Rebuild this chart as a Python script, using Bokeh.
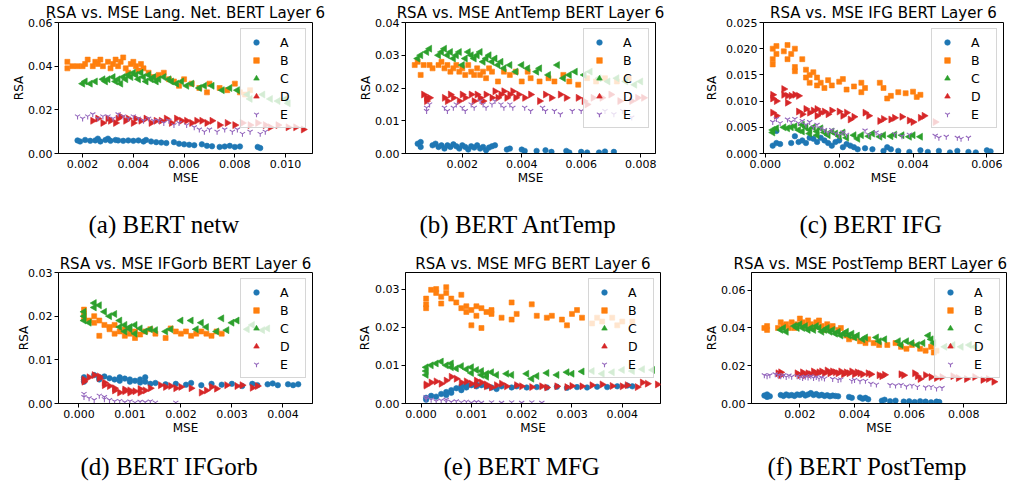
import math
from bokeh.plotting import figure
from bokeh.layouts import column, row
from bokeh.models import Range1d, FixedTicker, PrintfTickFormatter, Title
from bokeh.embed import file_html
from bokeh.resources import INLINE

series_names = ["A", "B", "C", "D", "E"]
series_colors = ["#1f77b4", "#ff7f0e", "#2ca02c", "#d62728", "#9467bd"]

# ---------------- (a) Lang. Net. ----------------
netw_title = "RSA vs. MSE Lang. Net. BERT Layer 6"
netw_caption = "(a) BERT netw"
netw_xticks = [0.002, 0.004, 0.006, 0.008, 0.010]
netw_yticks = [0.00, 0.02, 0.04, 0.06]
netw_A = [(0.0018,0.0060),(0.0019,0.0055),(0.0021,0.0062),(0.0023,0.0058),(0.0025,0.0060),(0.0026,0.0068),(0.0027,0.0055),(0.0029,0.0062),(0.0030,0.0068),(0.0031,0.0058),(0.0033,0.0062),(0.0034,0.0060),(0.0036,0.0058),(0.0038,0.0060),(0.0040,0.0058),(0.0042,0.0060),(0.0044,0.0055),(0.0045,0.0062),(0.0047,0.0055),(0.0049,0.0052),(0.0051,0.0050),(0.0053,0.0048),(0.0056,0.0052),(0.0058,0.0045),(0.0060,0.0042),(0.0062,0.0040),(0.0064,0.0038),(0.0067,0.0042),(0.0069,0.0035),(0.0071,0.0033),(0.0074,0.0030),(0.0076,0.0032),(0.0078,0.0035),(0.0080,0.0030),(0.0082,0.0032),(0.0089,0.0030),(0.0090,0.0025)]
netw_B = [(0.0014,0.039),(0.0014,0.042),(0.0016,0.040),(0.0018,0.040),(0.0020,0.040),(0.0021,0.041),(0.0022,0.043),(0.0024,0.040),(0.0025,0.042),(0.0026,0.041),(0.0027,0.043),(0.0028,0.040),(0.0030,0.042),(0.0031,0.039),(0.0032,0.041),(0.0033,0.043),(0.0034,0.040),(0.0035,0.042),(0.0036,0.044),(0.0037,0.039),(0.0038,0.037),(0.0039,0.041),(0.0040,0.042),(0.0041,0.040),(0.0042,0.038),(0.0043,0.041),(0.0044,0.039),(0.0046,0.037),(0.0048,0.035),(0.0050,0.036),(0.0052,0.037),(0.0054,0.034),(0.0056,0.033),(0.0058,0.031),(0.0060,0.034),(0.0063,0.032),(0.0066,0.030),(0.0069,0.028),(0.0070,0.032),(0.0074,0.030),(0.0077,0.029),(0.0080,0.032),(0.0082,0.028),(0.0084,0.027),(0.0086,0.029)]
netw_C = [(0.0020,0.032),(0.0021,0.033),(0.0023,0.032),(0.0025,0.033),(0.0028,0.034),(0.0029,0.033),(0.0030,0.034),(0.0032,0.035),(0.0033,0.033),(0.0034,0.034),(0.0035,0.032),(0.0036,0.035),(0.0037,0.034),(0.0038,0.036),(0.0039,0.035),(0.0040,0.037),(0.0041,0.036),(0.0042,0.034),(0.0043,0.037),(0.0044,0.035),(0.0045,0.033),(0.0046,0.036),(0.0047,0.034),(0.0048,0.035),(0.0049,0.033),(0.0050,0.034),(0.0052,0.035),(0.0054,0.034),(0.0055,0.033),(0.0057,0.032),(0.0059,0.033),(0.0061,0.031),(0.0063,0.032),(0.0066,0.030),(0.0068,0.031),(0.0071,0.031),(0.0075,0.029),(0.0078,0.030),(0.0081,0.029),(0.0085,0.027),(0.0086,0.025),(0.0091,0.027),(0.0094,0.025),(0.0097,0.024),(0.0100,0.025),(0.0101,0.023)]
netw_D = [(0.0024,0.015),(0.0026,0.016),(0.0028,0.014),(0.0030,0.016),(0.0031,0.015),(0.0033,0.014),(0.0034,0.016),(0.0035,0.017),(0.0037,0.015),(0.0038,0.016),(0.0040,0.014),(0.0041,0.016),(0.0043,0.015),(0.0045,0.016),(0.0047,0.014),(0.0049,0.015),(0.0051,0.015),(0.0053,0.016),(0.0055,0.014),(0.0057,0.016),(0.0059,0.015),(0.0061,0.015),(0.0063,0.014),(0.0065,0.015),(0.0067,0.015),(0.0069,0.014),(0.0071,0.015),(0.0074,0.013),(0.0077,0.014),(0.0080,0.013),(0.0083,0.014),(0.0086,0.013),(0.0089,0.014),(0.0092,0.013),(0.0094,0.012),(0.0097,0.013),(0.0101,0.012),(0.0104,0.012),(0.0107,0.011)]
netw_E = [(0.0018,0.017),(0.0020,0.016),(0.0022,0.017),(0.0024,0.018),(0.0026,0.016),(0.0028,0.017),(0.0030,0.017),(0.0032,0.016),(0.0034,0.018),(0.0036,0.017),(0.0038,0.016),(0.0040,0.017),(0.0042,0.016),(0.0044,0.015),(0.0046,0.016),(0.0048,0.015),(0.0050,0.015),(0.0052,0.014),(0.0054,0.015),(0.0056,0.013),(0.0058,0.014),(0.0061,0.013),(0.0064,0.012),(0.0066,0.011),(0.0068,0.010),(0.0070,0.011),(0.0073,0.010),(0.0076,0.011),(0.0079,0.010),(0.0081,0.011),(0.0083,0.009),(0.0086,0.010),(0.0090,0.009),(0.0092,0.010)]

# ---------------- (b) AntTemp ----------------
anttemp_title = "RSA vs. MSE AntTemp BERT Layer 6"
anttemp_caption = "(b) BERT AntTemp"
anttemp_xticks = [0.002, 0.004, 0.006, 0.008]
anttemp_yticks = [0.00, 0.01, 0.02, 0.03, 0.04]
anttemp_A = [(0.0005,0.0030),(0.0006,0.0020),(0.0006,0.0035),(0.0010,0.0025),(0.0011,0.0030),(0.0012,0.0020),(0.0013,0.0025),(0.0014,0.0015),(0.0015,0.0025),(0.0016,0.0020),(0.0017,0.0028),(0.0018,0.0022),(0.0019,0.0015),(0.0020,0.0025),(0.0021,0.0020),(0.0022,0.0012),(0.0023,0.0022),(0.0024,0.0018),(0.0025,0.0025),(0.0026,0.0015),(0.0027,0.0020),(0.0028,0.0010),(0.0029,0.0018),(0.0030,0.0022),(0.0031,0.0025),(0.0035,0.0012),(0.0036,0.0015),(0.0040,0.0012),(0.0041,0.0008),(0.0045,0.0008),(0.0048,0.0010),(0.0050,0.0005),(0.0055,0.0008),(0.0056,0.0003),(0.0060,0.0005),(0.0062,0.0003),(0.0066,0.0003),(0.0068,0.0006),(0.0071,0.0005)]
anttemp_B = [(0.0004,0.027),(0.0005,0.028),(0.0006,0.024),(0.0007,0.027),(0.0009,0.027),(0.0010,0.026),(0.0012,0.027),(0.0013,0.028),(0.0014,0.026),(0.0015,0.027),(0.0016,0.025),(0.0017,0.026),(0.0018,0.027),(0.0019,0.025),(0.0020,0.026),(0.0021,0.024),(0.0022,0.027),(0.0023,0.025),(0.0024,0.024),(0.0025,0.026),(0.0026,0.024),(0.0027,0.025),(0.0028,0.023),(0.0029,0.026),(0.0030,0.025),(0.0032,0.022),(0.0034,0.025),(0.0036,0.024),(0.0038,0.025),(0.0040,0.022),(0.0042,0.025),(0.0043,0.023),(0.0046,0.022),(0.0049,0.023),(0.0051,0.022),(0.0054,0.024),(0.0056,0.022),(0.0059,0.021),(0.0062,0.023),(0.0065,0.022),(0.0068,0.023),(0.0072,0.022),(0.0076,0.023)]
anttemp_C = [(0.0005,0.029),(0.0006,0.030),(0.0008,0.031),(0.0009,0.032),(0.0012,0.030),(0.0013,0.031),(0.0014,0.032),(0.0015,0.030),(0.0016,0.031),(0.0017,0.029),(0.0018,0.030),(0.0019,0.031),(0.0020,0.027),(0.0021,0.029),(0.0022,0.031),(0.0023,0.030),(0.0024,0.029),(0.0025,0.030),(0.0026,0.031),(0.0027,0.028),(0.0028,0.029),(0.0029,0.030),(0.0030,0.028),(0.0031,0.029),(0.0032,0.027),(0.0033,0.028),(0.0034,0.026),(0.0036,0.027),(0.0038,0.025),(0.0040,0.027),(0.0042,0.026),(0.0045,0.025),(0.0046,0.026),(0.0049,0.024),(0.0052,0.027),(0.0054,0.023),(0.0056,0.024),(0.0058,0.025),(0.0061,0.024),(0.0063,0.025),(0.0066,0.023),(0.0069,0.022),(0.0072,0.023),(0.0075,0.022),(0.0078,0.021),(0.0080,0.022)]
anttemp_D = [(0.0007,0.018),(0.0008,0.017),(0.0008,0.016),(0.0009,0.017),(0.0014,0.017),(0.0015,0.016),(0.0016,0.018),(0.0017,0.017),(0.0019,0.016),(0.0020,0.018),(0.0021,0.017),(0.0023,0.018),(0.0024,0.016),(0.0025,0.018),(0.0026,0.017),(0.0027,0.016),(0.0028,0.018),(0.0030,0.017),(0.0031,0.019),(0.0032,0.017),(0.0033,0.018),(0.0034,0.019),(0.0035,0.017),(0.0036,0.018),(0.0037,0.019),(0.0038,0.017),(0.0039,0.018),(0.0041,0.017),(0.0043,0.018),(0.0046,0.016),(0.0048,0.018),(0.0050,0.017),(0.0053,0.018),(0.0055,0.017),(0.0059,0.017),(0.0061,0.016),(0.0062,0.015),(0.0064,0.017),(0.0067,0.017),(0.0070,0.018),(0.0073,0.016),(0.0077,0.016),(0.0079,0.017),(0.0081,0.017)]
anttemp_E = [(0.0008,0.014),(0.0008,0.013),(0.0009,0.015),(0.0014,0.014),(0.0015,0.013),(0.0017,0.014),(0.0018,0.015),(0.0020,0.014),(0.0021,0.013),(0.0023,0.015),(0.0024,0.014),(0.0026,0.016),(0.0027,0.015),(0.0028,0.014),(0.0030,0.015),(0.0031,0.016),(0.0033,0.015),(0.0034,0.014),(0.0036,0.015),(0.0037,0.014),(0.0041,0.014),(0.0043,0.013),(0.0047,0.014),(0.0048,0.013),(0.0051,0.013),(0.0053,0.012),(0.0057,0.013),(0.0060,0.013),(0.0066,0.012),(0.0068,0.013),(0.0071,0.012),(0.0074,0.013),(0.0077,0.011)]

# ---------------- (c) IFG ----------------
ifg_title = "RSA vs. MSE IFG BERT Layer 6"
ifg_caption = "(c) BERT IFG"
ifg_xticks = [0.000, 0.002, 0.004, 0.006]
ifg_yticks = [0.000, 0.005, 0.010, 0.015, 0.020, 0.025]
ifg_A = [(0.0002,0.0015),(0.0003,0.0020),(0.0003,0.0043),(0.0004,0.0018),(0.0007,0.0020),(0.0008,0.0033),(0.0009,0.0022),(0.0010,0.0025),(0.0011,0.0020),(0.0012,0.0030),(0.0013,0.0028),(0.0014,0.0022),(0.0015,0.0030),(0.0016,0.0025),(0.0017,0.0020),(0.0018,0.0015),(0.0019,0.0022),(0.0020,0.0025),(0.0021,0.0012),(0.0022,0.0018),(0.0023,0.0015),(0.0024,0.0012),(0.0025,0.0008),(0.0027,0.0010),(0.0029,0.0008),(0.0032,0.0005),(0.0033,0.0012),(0.0034,0.0008),(0.0036,0.0005),(0.0039,0.0003),(0.0042,0.0006),(0.0044,0.0003),(0.0047,0.0005),(0.0050,0.0002),(0.0052,0.0005),(0.0055,0.0003),(0.0057,0.0002),(0.0060,0.0006),(0.0061,0.0004)]
ifg_B = [(0.0002,0.0170),(0.0002,0.0180),(0.0002,0.0200),(0.0003,0.0190),(0.0003,0.0205),(0.0005,0.0195),(0.0006,0.0207),(0.0006,0.0180),(0.0007,0.0190),(0.0008,0.0200),(0.0008,0.0165),(0.0008,0.0157),(0.0010,0.0180),(0.0011,0.0160),(0.0011,0.0145),(0.0012,0.0150),(0.0012,0.0135),(0.0013,0.0155),(0.0014,0.0130),(0.0014,0.0145),(0.0015,0.0135),(0.0016,0.0125),(0.0017,0.0140),(0.0018,0.0130),(0.0020,0.0137),(0.0021,0.0142),(0.0022,0.0122),(0.0024,0.0128),(0.0026,0.0135),(0.0026,0.0117),(0.0027,0.0125),(0.0031,0.0135),(0.0032,0.0125),(0.0033,0.0105),(0.0034,0.0110),(0.0036,0.0117),(0.0038,0.0115),(0.0040,0.0118),(0.0041,0.0108),(0.0042,0.0112)]
ifg_C = [(0.0002,0.0045),(0.0002,0.0040),(0.0003,0.0048),(0.0005,0.0050),(0.0006,0.0048),(0.0007,0.0050),(0.0008,0.0052),(0.0009,0.0045),(0.0010,0.0055),(0.0010,0.0042),(0.0011,0.0050),(0.0012,0.0045),(0.0012,0.0038),(0.0013,0.0050),(0.0014,0.0042),(0.0014,0.0035),(0.0015,0.0048),(0.0016,0.0040),(0.0017,0.0035),(0.0018,0.0042),(0.0019,0.0038),(0.0020,0.0033),(0.0021,0.0040),(0.0022,0.0030),(0.0024,0.0035),(0.0025,0.0028),(0.0026,0.0035),(0.0028,0.0033),(0.0029,0.0038),(0.0031,0.0032),(0.0032,0.0035),(0.0034,0.0033),(0.0035,0.0036),(0.0037,0.0035),(0.0039,0.0032),(0.0040,0.0035),(0.0042,0.0032)]
ifg_D = [(0.0002,0.0112),(0.0002,0.0105),(0.0002,0.0078),(0.0003,0.0100),(0.0003,0.0072),(0.0005,0.0112),(0.0005,0.0123),(0.0006,0.0110),(0.0006,0.0097),(0.0007,0.0110),(0.0008,0.0112),(0.0009,0.0110),(0.0009,0.0080),(0.0010,0.0075),(0.0011,0.0085),(0.0012,0.0078),(0.0013,0.0082),(0.0014,0.0072),(0.0014,0.0085),(0.0015,0.0078),(0.0016,0.0080),(0.0017,0.0075),(0.0018,0.0082),(0.0020,0.0080),(0.0021,0.0072),(0.0022,0.0078),(0.0023,0.0065),(0.0024,0.0070),(0.0027,0.0078),(0.0028,0.0072),(0.0031,0.0062),(0.0032,0.0066),(0.0034,0.0065),(0.0035,0.0068),(0.0037,0.0070),(0.0039,0.0063),(0.0040,0.0060),(0.0042,0.0068),(0.0043,0.0072),(0.0046,0.0060)]
ifg_E = [(0.0002,0.0060),(0.0003,0.0066),(0.0004,0.0058),(0.0006,0.0065),(0.0007,0.0060),(0.0008,0.0066),(0.0009,0.0058),(0.0010,0.0062),(0.0011,0.0055),(0.0012,0.0060),(0.0013,0.0050),(0.0014,0.0055),(0.0015,0.0048),(0.0016,0.0045),(0.0017,0.0040),(0.0018,0.0045),(0.0019,0.0038),(0.0020,0.0035),(0.0021,0.0040),(0.0022,0.0036),(0.0027,0.0044),(0.0028,0.0036),(0.0030,0.0040),(0.0031,0.0035),(0.0035,0.0037),(0.0037,0.0033),(0.0039,0.0036),(0.0046,0.0034),(0.0047,0.0030),(0.0049,0.0032),(0.0052,0.0030),(0.0053,0.0028),(0.0055,0.0030)]

# ---------------- (d) IFGorb ----------------
ifgorb_title = "RSA vs. MSE IFGorb BERT Layer 6"
ifgorb_caption = "(d) BERT IFGorb"
ifgorb_xticks = [0.000, 0.001, 0.002, 0.003, 0.004]
ifgorb_yticks = [0.00, 0.01, 0.02, 0.03]
ifgorb_A = [(0.0001,0.0060),(0.0001,0.0055),(0.0001,0.0050),(0.0003,0.0065),(0.0004,0.0060),(0.0004,0.0055),(0.0005,0.0062),(0.0006,0.0058),(0.0007,0.0055),(0.0008,0.0060),(0.0008,0.0052),(0.0009,0.0057),(0.0010,0.0050),(0.0010,0.0055),(0.0011,0.0052),(0.0012,0.0048),(0.0012,0.0055),(0.0013,0.0050),(0.0013,0.0060),(0.0014,0.0045),(0.0015,0.0047),(0.0017,0.0044),(0.0019,0.0045),(0.0021,0.0043),(0.0022,0.0047),(0.0024,0.0042),(0.0026,0.0045),(0.0028,0.0043),(0.0030,0.0045),(0.0032,0.0040),(0.0034,0.0045),(0.0035,0.0042),(0.0037,0.0044),(0.0038,0.0046),(0.0039,0.0042),(0.0041,0.0044),(0.0042,0.0042),(0.0043,0.0044)]
ifgorb_B = [(0.0001,0.0215),(0.0001,0.0205),(0.0001,0.0195),(0.0002,0.0190),(0.0003,0.0200),(0.0003,0.0185),(0.0004,0.0155),(0.0004,0.0190),(0.0005,0.0180),(0.0006,0.0175),(0.0006,0.0170),(0.0007,0.0180),(0.0007,0.0160),(0.0008,0.0165),(0.0009,0.0170),(0.0009,0.0155),(0.0010,0.0160),(0.0011,0.0165),(0.0011,0.0150),(0.0012,0.0158),(0.0013,0.0165),(0.0014,0.0170),(0.0015,0.0160),(0.0017,0.0150),(0.0018,0.0172),(0.0019,0.0165),(0.0020,0.0160),(0.0021,0.0165),(0.0022,0.0155),(0.0023,0.0160),(0.0024,0.0165),(0.0025,0.0160),(0.0026,0.0155),(0.0027,0.0165),(0.0028,0.0160)]
ifgorb_C = [(0.0001,0.0210),(0.0001,0.0200),(0.0001,0.0190),(0.0002,0.0185),(0.0003,0.0220),(0.0003,0.0230),(0.0004,0.0225),(0.0005,0.0210),(0.0006,0.0200),(0.0007,0.0205),(0.0008,0.0190),(0.0008,0.0175),(0.0009,0.0180),(0.0009,0.0165),(0.0010,0.0175),(0.0010,0.0170),(0.0011,0.0180),(0.0011,0.0160),(0.0012,0.0172),(0.0013,0.0165),(0.0014,0.0170),(0.0015,0.0168),(0.0017,0.0165),(0.0018,0.0170),(0.0020,0.0190),(0.0022,0.0190),(0.0023,0.0170),(0.0024,0.0185),(0.0025,0.0175),(0.0027,0.0165),(0.0028,0.0195),(0.0029,0.0168),(0.0030,0.0185),(0.0031,0.0190),(0.0033,0.0170),(0.0034,0.0180),(0.0036,0.0168),(0.0037,0.0172)]
ifgorb_D = [(0.0001,0.0055),(0.0001,0.0050),(0.0002,0.0060),(0.0003,0.0065),(0.0004,0.0062),(0.0004,0.0058),(0.0005,0.0048),(0.0005,0.0042),(0.0006,0.0040),(0.0007,0.0035),(0.0007,0.0030),(0.0008,0.0025),(0.0009,0.0032),(0.0009,0.0028),(0.0010,0.0025),(0.0010,0.0030),(0.0011,0.0028),(0.0012,0.0033),(0.0012,0.0025),(0.0013,0.0030),(0.0014,0.0035),(0.0016,0.0042),(0.0017,0.0038),(0.0018,0.0040),(0.0019,0.0035),(0.0020,0.0038),(0.0022,0.0035),(0.0024,0.0025),(0.0025,0.0030),(0.0026,0.0038),(0.0027,0.0034),(0.0029,0.0042),(0.0031,0.0040),(0.0032,0.0042),(0.0034,0.0036),(0.0035,0.0040)]
ifgorb_E = [(0.0001,0.0022),(0.0001,0.0015),(0.0002,0.0012),(0.0003,0.0008),(0.0004,0.0018),(0.0005,0.0015),(0.0005,0.0010),(0.0006,0.0008),(0.0007,0.0005),(0.0008,0.0006),(0.0009,0.0003),(0.0010,0.0005),(0.0011,0.0002),(0.0012,0.0004),(0.0013,0.0003),(0.0014,0.0005),(0.0015,0.0002),(0.0019,0.0002)]

# ---------------- (e) MFG ----------------
mfg_title = "RSA vs. MSE MFG BERT Layer 6"
mfg_caption = "(e) BERT MFG"
mfg_xticks = [0.000, 0.001, 0.002, 0.003, 0.004]
mfg_yticks = [0.00, 0.01, 0.02, 0.03]
mfg_A = [(0.0001,0.0015),(0.0001,0.0010),(0.0002,0.0020),(0.0003,0.0018),(0.0004,0.0025),(0.0005,0.0030),(0.0005,0.0022),(0.0006,0.0035),(0.0006,0.0028),(0.0007,0.0040),(0.0008,0.0035),(0.0008,0.0045),(0.0009,0.0042),(0.0009,0.0050),(0.0010,0.0048),(0.0011,0.0045),(0.0011,0.0050),(0.0012,0.0048),(0.0013,0.0045),(0.0014,0.0042),(0.0015,0.0038),(0.0016,0.0045),(0.0018,0.0042),(0.0019,0.0045),(0.0021,0.0042),(0.0023,0.0043),(0.0025,0.0042),(0.0027,0.0044),(0.0029,0.0041),(0.0031,0.0043),(0.0033,0.0042),(0.0035,0.0044),(0.0037,0.0043),(0.0039,0.0045),(0.0041,0.0047),(0.0042,0.0045)]
mfg_B = [(0.0001,0.0275),(0.0001,0.0260),(0.0001,0.0250),(0.0002,0.0298),(0.0003,0.0290),(0.0003,0.0300),(0.0004,0.0280),(0.0004,0.0262),(0.0005,0.0305),(0.0005,0.0290),(0.0006,0.0275),(0.0007,0.0265),(0.0008,0.0285),(0.0008,0.0250),(0.0009,0.0240),(0.0009,0.0255),(0.0010,0.0205),(0.0010,0.0245),(0.0011,0.0230),(0.0011,0.0255),(0.0012,0.0250),(0.0012,0.0198),(0.0013,0.0240),(0.0014,0.0235),(0.0014,0.0245),(0.0016,0.0225),(0.0018,0.0265),(0.0018,0.0220),(0.0019,0.0235),(0.0022,0.0260),(0.0023,0.0230),(0.0025,0.0225),(0.0026,0.0230),(0.0028,0.0220),(0.0029,0.0205),(0.0030,0.0235),(0.0031,0.0245),(0.0032,0.0225),(0.0034,0.0210),(0.0035,0.0225),(0.0036,0.0215),(0.0038,0.0225),(0.0039,0.0205),(0.0040,0.0215),(0.0042,0.0215)]
mfg_C = [(0.0001,0.0095),(0.0001,0.0085),(0.0001,0.0075),(0.0002,0.0100),(0.0003,0.0105),(0.0004,0.0110),(0.0005,0.0100),(0.0006,0.0095),(0.0006,0.0105),(0.0007,0.0092),(0.0008,0.0098),(0.0009,0.0090),(0.0010,0.0095),(0.0010,0.0080),(0.0011,0.0088),(0.0012,0.0075),(0.0012,0.0085),(0.0013,0.0078),(0.0013,0.0070),(0.0014,0.0082),(0.0015,0.0075),(0.0017,0.0078),(0.0018,0.0075),(0.0021,0.0078),(0.0022,0.0065),(0.0023,0.0072),(0.0025,0.0080),(0.0027,0.0075),(0.0029,0.0082),(0.0030,0.0078),(0.0032,0.0084),(0.0034,0.0085),(0.0036,0.0078),(0.0038,0.0082),(0.0040,0.0088),(0.0042,0.0085),(0.0044,0.0090),(0.0046,0.0088)]
mfg_D = [(0.0001,0.0050),(0.0001,0.0047),(0.0002,0.0055),(0.0003,0.0058),(0.0004,0.0052),(0.0005,0.0060),(0.0006,0.0070),(0.0007,0.0065),(0.0008,0.0055),(0.0009,0.0058),(0.0010,0.0052),(0.0011,0.0060),(0.0011,0.0048),(0.0012,0.0055),(0.0013,0.0045),(0.0013,0.0050),(0.0014,0.0042),(0.0015,0.0048),(0.0016,0.0052),(0.0017,0.0045),(0.0019,0.0048),(0.0020,0.0045),(0.0022,0.0043),(0.0024,0.0045),(0.0025,0.0042),(0.0027,0.0045),(0.0029,0.0043),(0.0030,0.0046),(0.0032,0.0045),(0.0034,0.0048),(0.0036,0.0050),(0.0038,0.0046),(0.0040,0.0045),(0.0041,0.0048),(0.0043,0.0043),(0.0044,0.0055),(0.0045,0.0052),(0.0047,0.0050)]
mfg_E = [(0.0001,0.0017),(0.0001,0.0012),(0.0002,0.0010),(0.0003,0.0006),(0.0004,0.0008),(0.0005,0.0005),(0.0005,0.0010),(0.0006,0.0004),(0.0007,0.0006),(0.0008,0.0003),(0.0009,0.0005),(0.0010,0.0002),(0.0011,0.0004),(0.0012,0.0002),(0.0014,0.0003),(0.0016,0.0002),(0.0018,0.0003),(0.0020,0.0002),(0.0022,0.0003),(0.0024,0.0002)]

# ---------------- (f) PostTemp ----------------
posttemp_title = "RSA vs. MSE PostTemp BERT Layer 6"
posttemp_caption = "(f) BERT PostTemp"
posttemp_xticks = [0.002, 0.004, 0.006, 0.008]
posttemp_yticks = [0.00, 0.02, 0.04, 0.06]
posttemp_A = [(0.0007,0.0042),(0.0008,0.0035),(0.0008,0.0048),(0.0009,0.0038),(0.0013,0.0045),(0.0014,0.0040),(0.0015,0.0048),(0.0016,0.0042),(0.0017,0.0045),(0.0018,0.0040),(0.0019,0.0048),(0.0020,0.0045),(0.0021,0.0052),(0.0022,0.0042),(0.0023,0.0048),(0.0024,0.0055),(0.0025,0.0045),(0.0026,0.0050),(0.0027,0.0042),(0.0028,0.0046),(0.0029,0.0040),(0.0030,0.0044),(0.0031,0.0038),(0.0032,0.0042),(0.0033,0.0040),(0.0034,0.0038),(0.0038,0.0035),(0.0039,0.0030),(0.0042,0.0032),(0.0043,0.0025),(0.0044,0.0030),(0.0045,0.0022),(0.0050,0.0015),(0.0051,0.0020),(0.0053,0.0012),(0.0055,0.0015),(0.0058,0.0010),(0.0060,0.0012),(0.0062,0.0008),(0.0064,0.0012),(0.0066,0.0010),(0.0068,0.0006),(0.0070,0.0010),(0.0071,0.0008)]
posttemp_B = [(0.0007,0.040),(0.0008,0.039),(0.0008,0.041),(0.0012,0.040),(0.0013,0.043),(0.0014,0.041),(0.0015,0.042),(0.0016,0.040),(0.0017,0.043),(0.0018,0.040),(0.0019,0.042),(0.0020,0.045),(0.0021,0.043),(0.0022,0.041),(0.0023,0.044),(0.0024,0.042),(0.0025,0.040),(0.0026,0.043),(0.0027,0.044),(0.0028,0.041),(0.0029,0.039),(0.0030,0.042),(0.0031,0.040),(0.0032,0.041),(0.0034,0.039),(0.0035,0.040),(0.0037,0.036),(0.0038,0.034),(0.0040,0.035),(0.0042,0.033),(0.0044,0.032),(0.0045,0.034),(0.0047,0.032),(0.0049,0.031),(0.0052,0.031),(0.0055,0.032),(0.0057,0.030),(0.0059,0.029),(0.0061,0.031),(0.0064,0.029),(0.0066,0.028),(0.0068,0.030),(0.0069,0.027),(0.0070,0.028)]
posttemp_C = [(0.0013,0.039),(0.0014,0.040),(0.0015,0.038),(0.0018,0.041),(0.0019,0.040),(0.0020,0.042),(0.0021,0.040),(0.0022,0.041),(0.0023,0.039),(0.0024,0.040),(0.0025,0.039),(0.0026,0.041),(0.0027,0.040),(0.0028,0.038),(0.0029,0.039),(0.0030,0.040),(0.0031,0.038),(0.0032,0.039),(0.0033,0.037),(0.0034,0.038),(0.0035,0.036),(0.0036,0.037),(0.0037,0.038),(0.0038,0.036),(0.0039,0.037),(0.0040,0.035),(0.0041,0.036),(0.0043,0.034),(0.0044,0.035),(0.0048,0.035),(0.0049,0.033),(0.0051,0.034),(0.0056,0.033),(0.0057,0.031),(0.0059,0.033),(0.0061,0.032),(0.0063,0.031),(0.0065,0.032),(0.0067,0.036),(0.0068,0.034),(0.0069,0.032),(0.0073,0.030),(0.0076,0.031),(0.0079,0.030),(0.0082,0.031),(0.0084,0.030)]
posttemp_D = [(0.0012,0.0160),(0.0013,0.0150),(0.0013,0.0165),(0.0019,0.0160),(0.0020,0.0150),(0.0021,0.0165),(0.0022,0.0150),(0.0023,0.0160),(0.0024,0.0155),(0.0025,0.0170),(0.0026,0.0160),(0.0027,0.0165),(0.0028,0.0170),(0.0029,0.0160),(0.0030,0.0175),(0.0031,0.0160),(0.0032,0.0170),(0.0033,0.0165),(0.0034,0.0160),(0.0035,0.0170),(0.0036,0.0155),(0.0037,0.0165),(0.0038,0.0160),(0.0039,0.0170),(0.0040,0.0155),(0.0041,0.0165),(0.0042,0.0160),(0.0043,0.0155),(0.0045,0.0160),(0.0046,0.0155),(0.0049,0.0150),(0.0050,0.0145),(0.0051,0.0152),(0.0057,0.0155),(0.0058,0.0150),(0.0062,0.0160),(0.0063,0.0145),(0.0064,0.0130),(0.0066,0.0150),(0.0068,0.0140),(0.0070,0.0135),(0.0072,0.0140),(0.0076,0.0145),(0.0078,0.0135),(0.0081,0.0130),(0.0084,0.0140),(0.0087,0.0125),(0.0089,0.0130),(0.0091,0.0115)]
posttemp_E = [(0.0007,0.0150),(0.0008,0.0145),(0.0009,0.0150),(0.0011,0.0155),(0.0012,0.0150),(0.0013,0.0145),(0.0014,0.0150),(0.0015,0.0140),(0.0016,0.0148),(0.0017,0.0142),(0.0019,0.0145),(0.0020,0.0140),(0.0021,0.0135),(0.0022,0.0142),(0.0023,0.0138),(0.0024,0.0145),(0.0025,0.0135),(0.0026,0.0140),(0.0027,0.0132),(0.0028,0.0138),(0.0029,0.0132),(0.0032,0.0130),(0.0034,0.0125),(0.0035,0.0128),(0.0039,0.0120),(0.0040,0.0125),(0.0042,0.0118),(0.0044,0.0120),(0.0046,0.0105),(0.0048,0.0100),(0.0053,0.0098),(0.0055,0.0095),(0.0057,0.0098),(0.0059,0.0090),(0.0061,0.0095),(0.0063,0.0088),(0.0066,0.0085),(0.0068,0.0088),(0.0070,0.0080),(0.0072,0.0082)]

panels_data = [
    (netw_title, netw_caption, [netw_A, netw_B, netw_C, netw_D, netw_E], netw_xticks, netw_yticks),
    (anttemp_title, anttemp_caption, [anttemp_A, anttemp_B, anttemp_C, anttemp_D, anttemp_E], anttemp_xticks, anttemp_yticks),
    (ifg_title, ifg_caption, [ifg_A, ifg_B, ifg_C, ifg_D, ifg_E], ifg_xticks, ifg_yticks),
    (ifgorb_title, ifgorb_caption, [ifgorb_A, ifgorb_B, ifgorb_C, ifgorb_D, ifgorb_E], ifgorb_xticks, ifgorb_yticks),
    (mfg_title, mfg_caption, [mfg_A, mfg_B, mfg_C, mfg_D, mfg_E], mfg_xticks, mfg_yticks),
    (posttemp_title, posttemp_caption, [posttemp_A, posttemp_B, posttemp_C, posttemp_D, posttemp_E], posttemp_xticks, posttemp_yticks),
]

# ---- layout / style (not data) ----
# (xrange, yrange, xfmt, yfmt, border_left, frame_w, border_right, border_top, frame_h, border_bottom,
#  title_standoff, title_offset(None=centered), caption_offset, spacer, ylabel_standoff)
layout_cfg = [
    ((0.00105, 0.01106), (0.0, 0.06), "%.3f", "%.2f", 58, 254, 26, 22, 131, 95, 1, None, 30, 23.5, -1),
    ((0.00009, 0.0085), (0.0, 0.04), "%.3f", "%.2f", 67, 250, 35, 22, 131, 95, 1, None, 14, 23.5, -1),
    ((-0.00005, 0.00645), (0.0, 0.025), "%.3f", "%.3f", 73, 240, 14, 22, 131, 95, 1, None, 36, 23.5, 4),
    ((-0.0004, 0.00458), (0.0, 0.03), "%.3f", "%.2f", 58, 254, 26, 24, 131, 85, 0, None, 22, 15.5, -6),
    ((-0.00031, 0.00476), (0.0, 0.03435), "%.3f", "%.2f", 67, 255, 30, 24, 131, 85, 0, None, 38, 15.5, 0),
    ((0.00023, 0.00956), (0.0, 0.0694), "%.3f", "%.2f", 61, 255, 11, 24, 131, 85, 0, -18, 16, 15.5, -1),
]

marker_styles = [
    dict(marker="circle", size=5.5),
    dict(marker="square", size=5),
    dict(marker="triangle", size=7, angle=math.pi / 2),
    dict(marker="triangle", size=7, angle=-math.pi / 2),
    dict(marker="y", size=6),
]

FONT = "DejaVu Sans"


def make_panel(pdata, cfg):
    title, caption, series, xticks, yticks = pdata
    (xr, yr, xfmt, yfmt, bl, fw, br, bt, fh, bb, t_so, t_off, c_off, spacer, ylab_so) = cfg
    p = figure(frame_width=fw, frame_height=fh,
               min_border_left=bl, min_border_right=br,
               min_border_top=bt, min_border_bottom=bb,
               x_range=Range1d(*xr), y_range=Range1d(*yr),
               toolbar_location=None, tools="", output_backend="svg")
    p.grid.visible = False
    p.outline_line_color = "black"
    p.outline_line_width = 1
    p.outline_line_alpha = 1
    p.background_fill_color = "white"
    p.border_fill_color = "white"

    p.title.text = title
    p.title.text_font = FONT
    p.title.text_font_size = "15px"
    p.title.text_font_style = "normal"
    p.title.text_color = "black"
    p.title.standoff = t_so
    if t_off is None:
        p.title.align = "center"
    else:
        p.title.align = "left"
        p.title.offset = t_off

    for i, pts in enumerate(series):
        xs = [t[0] for t in pts]
        ys = [t[1] for t in pts]
        st = marker_styles[i]
        col = series_colors[i]
        kw = dict(marker=st["marker"], size=st["size"], legend_label=series_names[i])
        if "angle" in st:
            kw["angle"] = st["angle"]
        if st["marker"] == "y":
            p.scatter(xs, ys, line_color=col, line_width=1.1, fill_color=None, **kw)
        else:
            p.scatter(xs, ys, fill_color=col, line_color=col, line_width=0.6, **kw)

    for ax, ticks, fmt, lab in ((p.xaxis, xticks, xfmt, "MSE"), (p.yaxis, yticks, yfmt, "RSA")):
        ax.ticker = FixedTicker(ticks=ticks, minor_ticks=[])
        ax.formatter = PrintfTickFormatter(format=fmt)
        ax.axis_label = lab
        ax.axis_label_text_font = FONT
        ax.axis_label_text_font_size = "12px"
        ax.axis_label_text_font_style = "normal"
        ax.axis_label_text_color = "black"
        ax.major_label_text_font = FONT
        ax.major_label_text_font_size = "11px"
        ax.major_label_text_color = "black"
        ax.axis_line_color = "black"
        ax.major_tick_line_color = "black"
        ax.major_tick_out = 4
        ax.major_tick_in = 0
        ax.minor_tick_line_color = None
        ax.major_label_standoff = 2
    p.xaxis.axis_label_standoff = 0
    p.yaxis.axis_label_standoff = ylab_so

    lg = p.legend[0]
    lg.location = "top_right"
    lg.margin = 6
    lg.padding = 5
    lg.spacing = 2
    lg.glyph_width = 20
    lg.glyph_height = 14
    lg.label_height = 16
    lg.label_standoff = 14
    lg.label_text_font = FONT
    lg.label_text_font_size = "12.5px"
    lg.label_text_color = "black"
    lg.border_line_color = "#cccccc"
    lg.border_line_alpha = 0.8
    lg.background_fill_color = "white"
    lg.background_fill_alpha = 0.8

    # blank spacer between the x axis and the caption
    p.add_layout(Title(text=" ", text_font_size="1px", standoff=spacer - 3.2), "below")
    p.add_layout(Title(text=caption, text_font="Liberation Serif", text_font_size="25px",
                       text_font_style="normal", text_color="black", align="left",
                       offset=c_off, vertical_align="top", standoff=0), "below")
    return p


figs = [make_panel(pd, cfg) for pd, cfg in zip(panels_data, layout_cfg)]
page = column(row(*figs[:3]), row(*figs[3:]))
open("out.html", "w").write(file_html(page, INLINE))
